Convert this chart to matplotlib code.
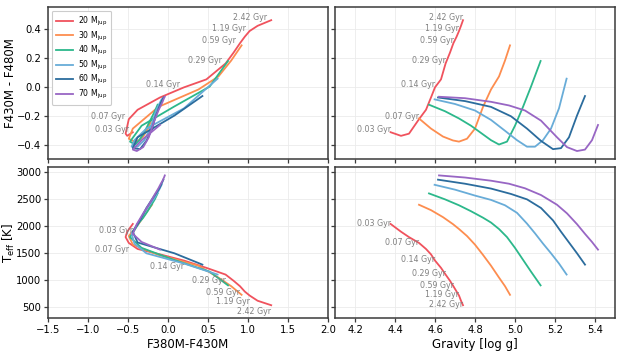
import numpy as np
import matplotlib.pyplot as plt

masses = [20, 30, 40, 50, 60, 70]
colors = ["#f0525d", "#fd8d4f", "#2cb88b", "#68acd8", "#2b6c9d", "#9866c4"]

# 20 Mjup track (ages in Gyr)
ages_20 = [0.03, 0.04, 0.05, 0.07, 0.09, 0.11, 0.14, 0.2, 0.29, 0.41, 0.59, 0.85, 1.19, 1.7, 2.42]
logg_20 = [4.378, 4.43, 4.47, 4.52, 4.555, 4.58, 4.60, 4.63, 4.653, 4.675, 4.692, 4.708, 4.72, 4.73, 4.74]
teff_20 = [2044, 1900, 1800, 1692, 1580, 1480, 1365, 1230, 1105, 990, 889, 790, 717, 620, 537]
c1_20 = [-0.44, -0.51, -0.53, -0.49, -0.38, -0.10, 0.20, 0.48, 0.72, 0.82, 0.90, 0.96, 1.02, 1.12, 1.29]
c2_20 = [-0.315, -0.34, -0.325, -0.225, -0.16, -0.075, -0.005, 0.05, 0.16, 0.235, 0.30, 0.345, 0.384, 0.42, 0.459]

logg_30 = [4.52, 4.58, 4.64, 4.69, 4.72, 4.76, 4.80, 4.84, 4.88, 4.92, 4.95, 4.975]
teff_30 = [2400, 2300, 2170, 2040, 1950, 1820, 1660, 1470, 1270, 1050, 890, 730]
c1_30 = [-0.20, -0.25, -0.31, -0.37, -0.42, -0.49, -0.44, -0.12, 0.38, 0.63, 0.79, 0.92]
c2_30 = [-0.22, -0.29, -0.345, -0.372, -0.38, -0.36, -0.29, -0.14, -0.02, 0.07, 0.18, 0.285]

logg_40 = [4.57, 4.65, 4.72, 4.78, 4.84, 4.88, 4.92, 4.96, 5.00, 5.04, 5.08, 5.128]
teff_40 = [2610, 2500, 2390, 2280, 2160, 2070, 1950, 1800, 1600, 1380, 1160, 905]
c1_40 = [-0.13, -0.165, -0.21, -0.255, -0.31, -0.36, -0.41, -0.475, -0.33, 0.07, 0.52, 0.75]
c2_40 = [-0.125, -0.17, -0.22, -0.27, -0.33, -0.37, -0.40, -0.38, -0.27, -0.14, 0.0, 0.177]

logg_50 = [4.598, 4.70, 4.80, 4.88, 4.95, 5.01, 5.06, 5.10, 5.14, 5.18, 5.22, 5.258]
teff_50 = [2770, 2680, 2570, 2490, 2390, 2250, 2050, 1870, 1680, 1500, 1310, 1106]
c1_50 = [-0.08, -0.11, -0.15, -0.185, -0.235, -0.295, -0.38, -0.455, -0.42, -0.27, 0.20, 0.62]
c2_50 = [-0.088, -0.12, -0.165, -0.23, -0.305, -0.37, -0.415, -0.415, -0.37, -0.29, -0.15, 0.055]

logg_60 = [4.615, 4.75, 4.88, 4.98, 5.06, 5.13, 5.19, 5.23, 5.27, 5.31, 5.35]
teff_60 = [2865, 2790, 2700, 2600, 2500, 2340, 2110, 1900, 1700, 1500, 1290]
c1_60 = [-0.058, -0.08, -0.11, -0.155, -0.20, -0.27, -0.35, -0.44, -0.38, 0.08, 0.43]
c2_60 = [-0.075, -0.10, -0.14, -0.205, -0.29, -0.375, -0.432, -0.425, -0.35, -0.20, -0.065]

logg_70 = [4.62, 4.75, 4.88, 4.97, 5.05, 5.13, 5.21, 5.26, 5.31, 5.35, 5.385, 5.415]
teff_70 = [2944, 2905, 2846, 2790, 2705, 2580, 2400, 2240, 2040, 1860, 1710, 1568]
c1_70 = [-0.04, -0.05, -0.068, -0.09, -0.12, -0.17, -0.24, -0.31, -0.39, -0.44, -0.33, -0.10]
c2_70 = [-0.07, -0.08, -0.105, -0.13, -0.165, -0.235, -0.35, -0.418, -0.445, -0.435, -0.37, -0.265]

label_ages = [0.03, 0.07, 0.14, 0.29, 0.59, 1.19, 2.42]

tracks = [
    (logg_20, teff_20, c1_20, c2_20),
    (logg_30, teff_30, c1_30, c2_30),
    (logg_40, teff_40, c1_40, c2_40),
    (logg_50, teff_50, c1_50, c2_50),
    (logg_60, teff_60, c1_60, c2_60),
    (logg_70, teff_70, c1_70, c2_70),
]

plt.rcParams["font.family"] = "DejaVu Sans"
spine_col = "#3b3b3b"
grid_col = "#ebebeb"

fig = plt.figure(figsize=(6.23, 3.52), dpi=100)
W, H = 623.0, 352.0
ax_tl = fig.add_axes([48 / W, 1 - 159 / H, 280 / W, 152 / H])
ax_tr = fig.add_axes([335 / W, 1 - 159 / H, 280 / W, 152 / H])
ax_bl = fig.add_axes([48 / W, 1 - 318 / H, 280 / W, 151 / H])
ax_br = fig.add_axes([335 / W, 1 - 318 / H, 280 / W, 151 / H])

for ax in [ax_tl, ax_tr, ax_bl, ax_br]:
    ax.grid(True, color=grid_col, linewidth=0.6)
    ax.set_axisbelow(True)
    for s in ax.spines.values():
        s.set_color(spine_col)
        s.set_linewidth(1.1)
    ax.tick_params(direction="out", length=3, width=0.9, color=spine_col,
                   labelsize=7.2, pad=2)

for m, col, (lg, te, c1, c2) in zip(masses, colors, tracks):
    lab = f"{m} M$_{{\\rm jup}}$"
    ax_tl.plot(c1, c2, color=col, lw=1.3, label=lab)
    ax_tr.plot(lg, c2, color=col, lw=1.3)
    ax_bl.plot(c1, te, color=col, lw=1.3)
    ax_br.plot(lg, te, color=col, lw=1.3)

# age labels along the 20 Mjup track
txt_kw = dict(fontsize=5.7, color="#808080", ha="right", va="center",
              textcoords="offset points")
for a in label_ages:
    i = ages_20.index(a)
    s = f"{a:.2f} Gyr"
    ax_tl.annotate(s, (c1_20[i], c2_20[i]), xytext=(-3, 2), **txt_kw)
    ax_tr.annotate(s, (logg_20[i], c2_20[i]), xytext=(0, 2), **txt_kw)
    ax_bl.annotate(s, (c1_20[i], teff_20[i]), xytext=(0, -4.5), **txt_kw)
    ax_br.annotate(s, (logg_20[i], teff_20[i]), xytext=(0, 0.5), **txt_kw)

for ax in [ax_tl, ax_bl]:
    ax.set_xlim(-1.5, 2.0)
    ax.set_xticks(np.arange(-1.5, 2.01, 0.5))
for ax in [ax_tr, ax_br]:
    ax.set_xlim(4.1, 5.5)
    ax.set_xticks(np.arange(4.2, 5.41, 0.2))
for ax in [ax_tl, ax_tr]:
    ax.set_ylim(-0.5, 0.55)
    ax.set_yticks([-0.4, -0.2, 0.0, 0.2, 0.4])
for ax in [ax_bl, ax_br]:
    ax.set_ylim(300, 3100)
    ax.set_yticks([500, 1000, 1500, 2000, 2500, 3000])

ax_tl.tick_params(labelbottom=False)
ax_tr.tick_params(labelbottom=False, labelleft=False)
ax_br.tick_params(labelleft=False)

ax_tl.set_ylabel("F430M - F480M", fontsize=8.5)
ax_bl.set_ylabel("T$_{\\rm eff}$ [K]", fontsize=8.5)
ax_tl.yaxis.set_label_coords(-0.112, 0.5)
ax_bl.yaxis.set_label_coords(-0.112, 0.5)
ax_bl.set_xlabel("F380M-F430M", fontsize=8.5, labelpad=2)
ax_br.set_xlabel("Gravity [log g]", fontsize=8.5, labelpad=2)

leg = ax_tl.legend(loc="upper left", fontsize=5.6, handlelength=2.2,
                   labelspacing=0.2, borderpad=0.5, handletextpad=0.7,
                   framealpha=1, edgecolor="#cccccc", fancybox=True,
                   borderaxespad=0.5)
leg.get_frame().set_linewidth(0.8)

fig.savefig("out.png", dpi=100)
